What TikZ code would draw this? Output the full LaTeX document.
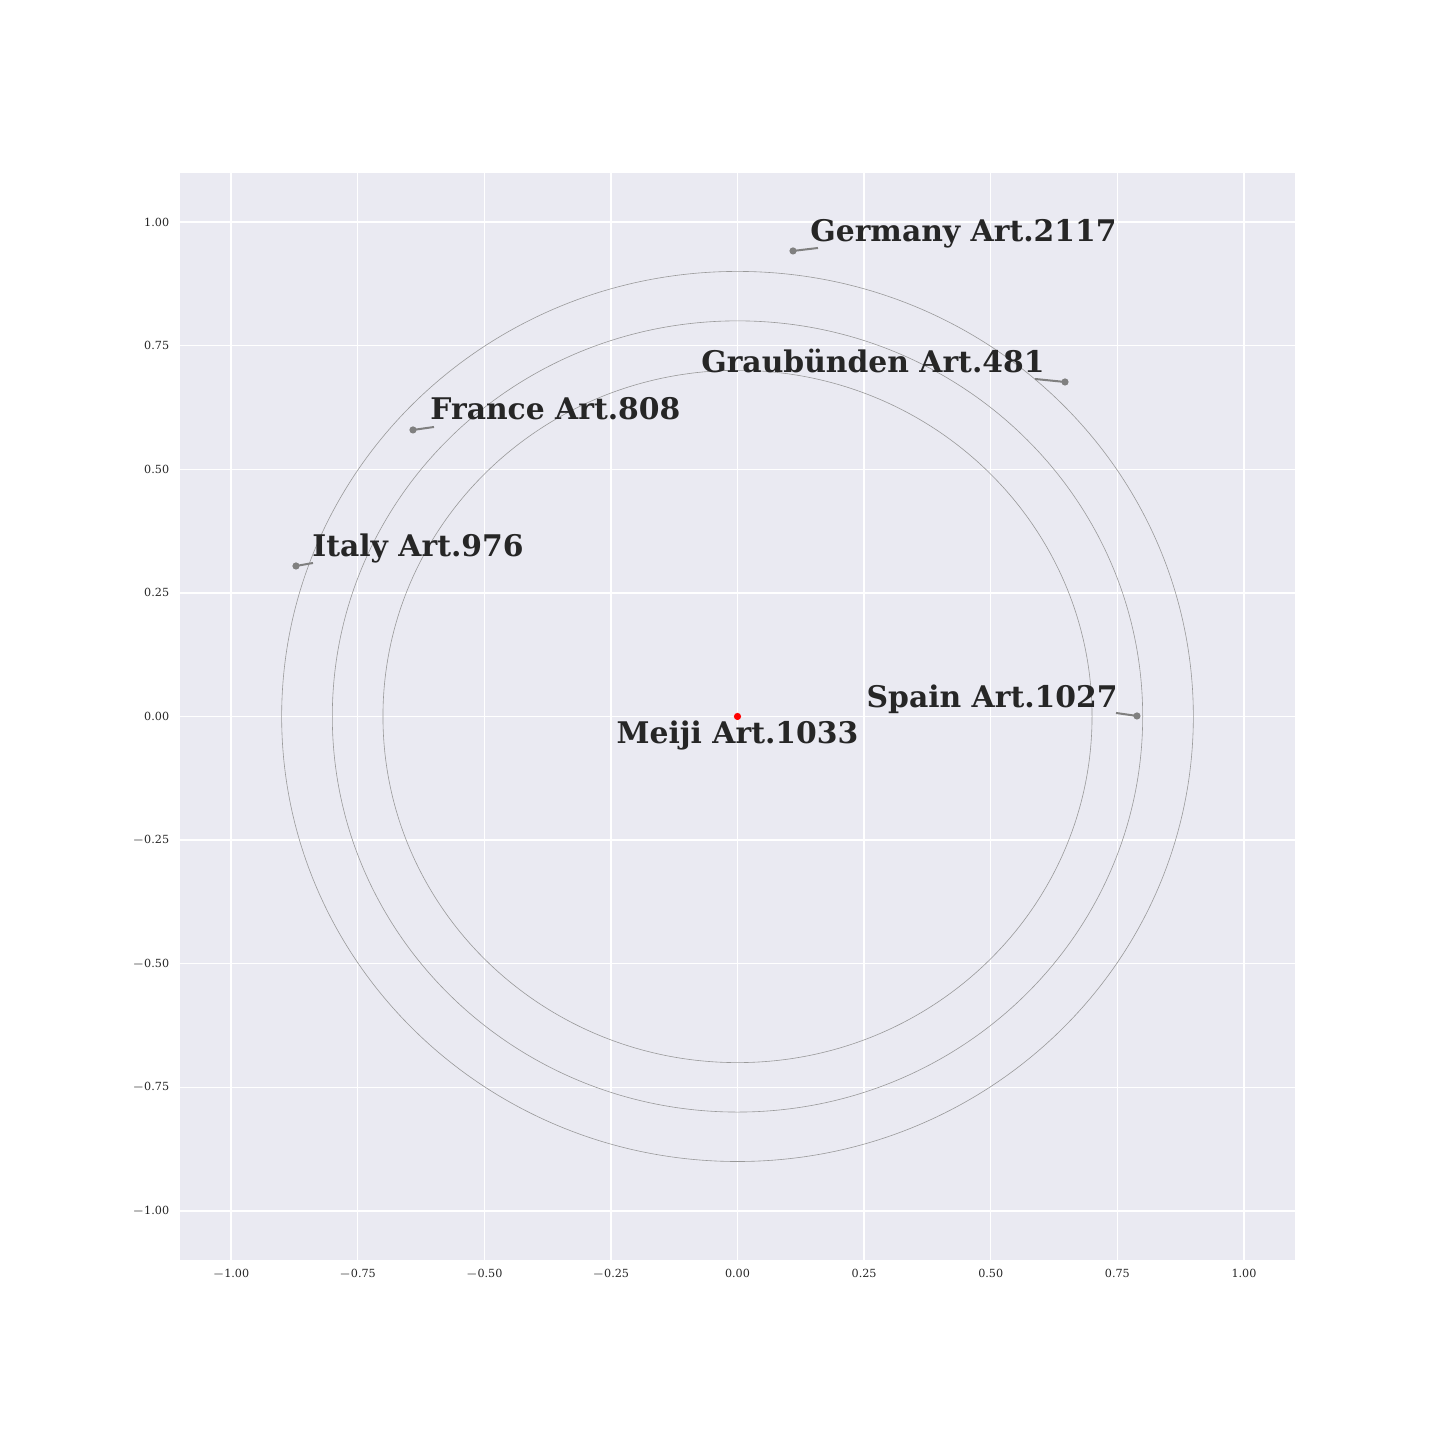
\documentclass[tikz,border=0pt]{standalone}
\usepackage{fontspec}
\setmainfont{DejaVu Serif}
\begin{document}
\begin{tikzpicture}[x=253.25pt,y=247.25pt,
  axbg/.style={fill={rgb,255:red,234;green,234;blue,242}},
  gridline/.style={draw=white,line width=0.7pt},
  ring/.style={draw=gray!80,line width=0.3pt},
  ticklab/.style={font=\fontsize{5.6pt}{6.5pt}\selectfont,text={rgb,255:red,38;green,38;blue,38},inner sep=0pt},
  lbl/.style={font=\bfseries\fontsize{14.9pt}{18pt}\selectfont,text={rgb,255:red,38;green,38;blue,38},inner sep=0pt},
  dot/.style={circle,fill=gray,inner sep=0pt,minimum size=3.6pt},
  reddot/.style={circle,fill=red,inner sep=0pt,minimum size=3.6pt},
  leader/.style={draw=gray,line width=1pt}]
\useasboundingbox (-1.4561,-1.4631) rectangle (1.3870,1.4489);
\fill[white] (-1.4561,-1.4631) rectangle (1.3870,1.4489);
\path[axbg] (-1.1,-1.1) rectangle (1.1,1.1);
\foreach \v/\t in {-1/{$-$1.00},-0.75/{$-$0.75},-0.5/{$-$0.50},-0.25/{$-$0.25},0/0.00,0.25/0.25,0.5/0.50,0.75/0.75,1/1.00}{
  \draw[gridline] (\v,-1.1) -- (\v,1.1);
  \draw[gridline] (-1.1,\v) -- (1.1,\v);
  \node[ticklab,anchor=east] (yt\v) at (-1.1-0.0213,\v) {\t};
  \node[ticklab,anchor=north] (xt\v) at (\v,-1.1-0.0162) {\t};
}
\draw[ring] (0,0) ellipse [x radius=177.275pt, y radius=173.075pt];
\draw[ring] (0,0) ellipse [x radius=202.6pt, y radius=197.8pt];
\draw[ring] (0,0) ellipse [x radius=227.925pt, y radius=222.525pt];
% points
\node[dot] (pG) at (0.1096,0.9414) {};
\node[dot] (pR) at (0.6466,0.6764) {};
\node[dot] (pF) at (-0.6407,0.5794) {};
\node[dot] (pI) at (-0.8717,0.3043) {};
\node[dot] (pS) at (0.7887,0.0010) {};
\node[reddot] (pM) at (0,0) {};
% leader ends
\coordinate (eG) at (0.1589,0.9474);
\coordinate (eR) at (0.5874,0.6825);
\coordinate (eF) at (-0.5992,0.5854);
\coordinate (eI) at (-0.8381,0.3104);
\coordinate (eS) at (0.7473,0.0071);
\draw[leader] (pG.center) -- (eG);
\draw[leader] (pR.center) -- (eR);
\draw[leader] (pF.center) -- (eF);
\draw[leader] (pI.center) -- (eI);
\draw[leader] (pS.center) -- (eS);
% labels
\node[lbl,anchor=base west] (tG) at (0.1431,0.9596) {Germany Art.2117};
\node[lbl,anchor=base east] (tR) at (0.6071,0.6946) {Graubünden Art.481};
\node[lbl,anchor=base west] (tF) at (-0.6071,0.5996) {France Art.808};
\node[lbl,anchor=base west] (tI) at (-0.8401,0.3226) {Italy Art.976};
\node[lbl,anchor=base east] (tS) at (0.7513,0.0172) {Spain Art.1027};
\node[lbl,anchor=base] (tM) at (0,-0.0556) {Meiji Art.1033};
\end{tikzpicture}
\end{document}
